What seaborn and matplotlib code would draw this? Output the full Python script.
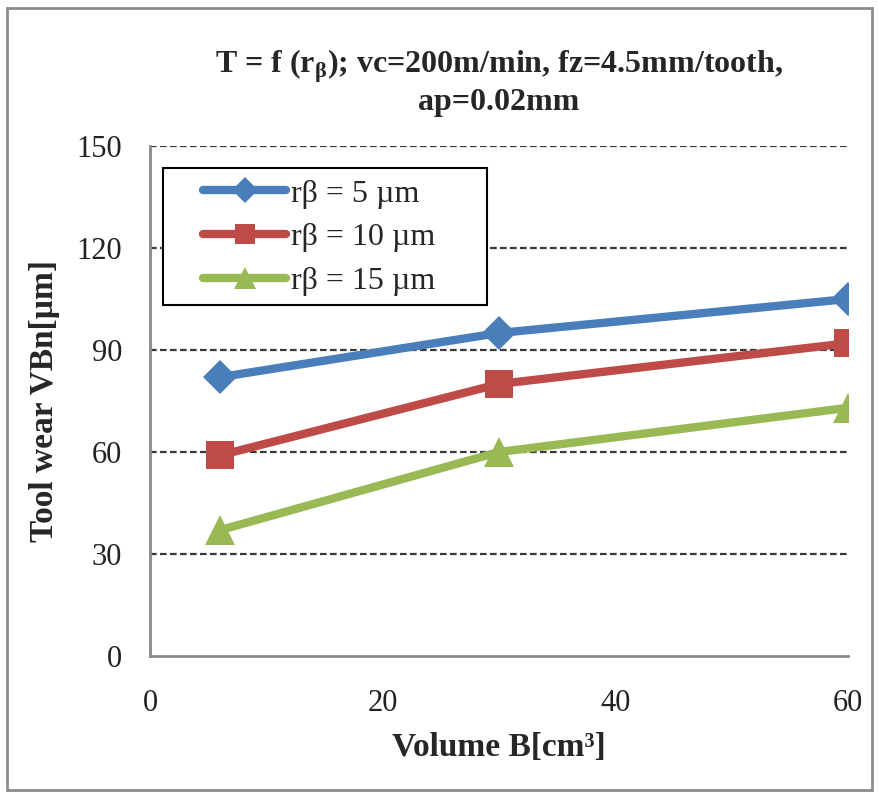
import pandas as pd
import matplotlib
matplotlib.use("Agg")
import matplotlib.pyplot as plt
import seaborn as sns
from matplotlib.lines import Line2D
from matplotlib.patches import Rectangle

# data
volume = [6, 30, 60]
wear_5 = [82, 95, 105]
wear_10 = [59, 80, 92]
wear_15 = [37, 60, 73]
series_names = ["rβ = 5 µm", "rβ = 10 µm", "rβ = 15 µm"]
y_ticks = [0, 30, 60, 90, 120, 150]
x_ticks = [0, 20, 40, 60]

colors = ["#4A7EBB", "#BE4B48", "#98B954"]
markers = ["D", "s", "^"]
msizes = [17, 20, 22]

data = pd.DataFrame({
    "Volume": volume * 3,
    "Wear": wear_5 + wear_10 + wear_15,
    "Series": [s for s in series_names for _ in volume],
})

sns.set_theme(style="white")
plt.rcParams["font.family"] = ["Liberation Serif", "DejaVu Serif"]
plt.rcParams["mathtext.fontset"] = "custom"
plt.rcParams["mathtext.rm"] = "Liberation Serif:bold"
plt.rcParams["mathtext.bf"] = "Liberation Serif:bold"

fig = plt.figure(figsize=(8.79, 8), dpi=100)
ax = fig.add_axes([0.1706, 0.18, 0.794, 0.6375])

for name, c, m, ms in zip(series_names, colors, markers, msizes):
    sub = data[data["Series"] == name]
    sns.lineplot(data=sub, x="Volume", y="Wear", ax=ax, color=c, lw=6,
                 marker=m, markersize=ms, markeredgewidth=0, label=name,
                 legend=False, zorder=3)

ax.set_xlim(0, 60)
ax.set_ylim(0, 150)
ax.set_xticks(x_ticks)
ax.set_yticks(y_ticks)
ax.tick_params(axis="both", length=0, labelsize=22, colors="#222222")
ax.tick_params(axis="y", pad=20)
ax.tick_params(axis="x", pad=24)

ax.grid(False)
for y in y_ticks[1:]:
    ax.axhline(y, color="#3a3a3a", lw=1.6, ls=(0, (3, 1.5)), zorder=1)

for side in ["top", "right"]:
    ax.spines[side].set_visible(False)
for side in ["left", "bottom"]:
    ax.spines[side].set_color("#8a8a8a")
    ax.spines[side].set_linewidth(2)

ax.set_xlabel("Volume B[cm³]", fontsize=24, fontweight="bold", labelpad=10)
ax.set_ylabel("Tool wear VBn[µm]", fontsize=24, fontweight="bold", labelpad=12)
ax.set_title("T = f (r$_{\\mathrm{β}}$); vc=200m/min, fz=4.5mm/tooth,\nap=0.02mm",
             fontsize=23, fontweight="bold", pad=26, linespacing=1.15)

handles = [Line2D([0], [0], color=c, lw=6, marker=m, markersize=ms * 0.75,
                  markeredgewidth=0)
           for c, m, ms in zip(colors, markers, msizes)]
leg = ax.legend(handles, series_names, loc="upper left",
                bbox_to_anchor=(0.076, 0.935), fontsize=23, frameon=False,
                handlelength=2.6, handletextpad=0.15, labelspacing=0.45,
                borderpad=0, borderaxespad=0)
leg.set_zorder(5)
# legend box, drawn larger than the entries as in the original
ax.add_patch(Rectangle((0.0186, 0.688), 0.464, 0.269, transform=ax.transAxes,
                       facecolor="white", edgecolor="black", lw=1.5, zorder=4))

fig.patches.append(Rectangle((0.008, 0.012), 0.984, 0.978,
                             transform=fig.transFigure, fill=False,
                             edgecolor="#8c8c8c", lw=2))

fig.savefig("out.png", dpi=100)
